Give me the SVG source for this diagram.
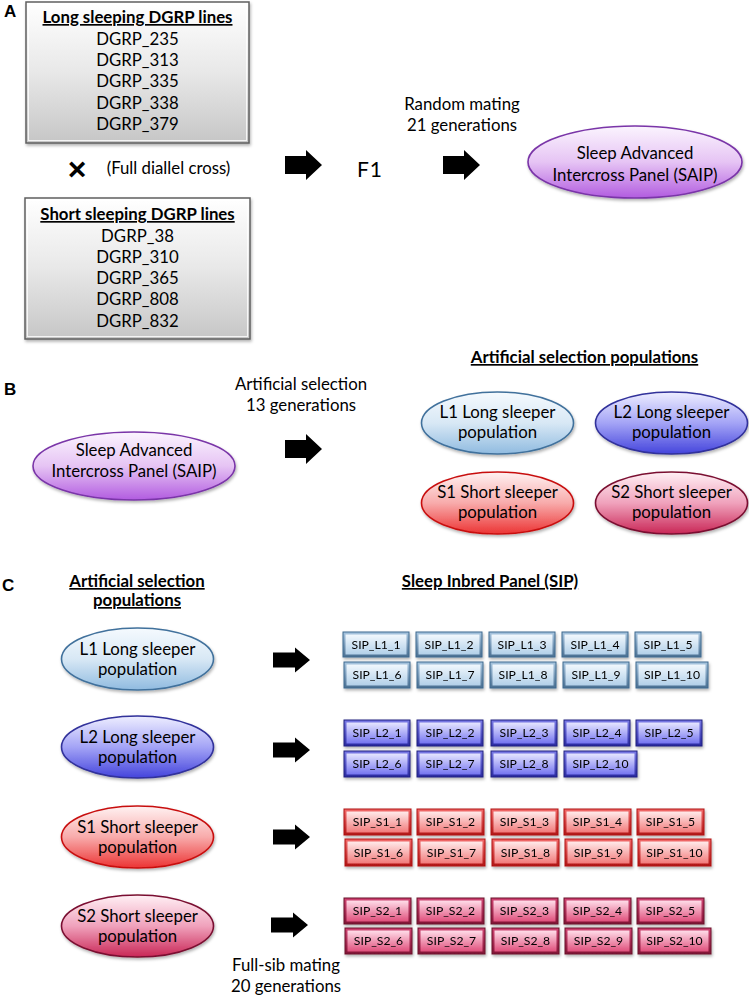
<svg xmlns="http://www.w3.org/2000/svg" width="749" height="998" viewBox="0 0 749 998">
<defs>
<style>
text{font-family:Lato,"Liberation Sans",sans-serif;fill:#000;text-anchor:middle}
.t{font-size:16.8px}
.h{font-size:16.8px;font-weight:bold;text-decoration:underline}
.lbl{font-family:"Liberation Sans",Arial,sans-serif;font-weight:bold;font-size:17px;text-anchor:start}
.bx{font-size:12.2px}
.o1{fill:url(#l1e);stroke:#3f6a8f;stroke-width:1}
.i1{fill:url(#l1f)}
.o2{fill:url(#l2e);stroke:#1e1e80;stroke-width:1}
.i2{fill:url(#l2f)}
.o3{fill:url(#s1e);stroke:#b01010;stroke-width:1}
.i3{fill:url(#s1f)}
.o4{fill:url(#s2e);stroke:#6a0f2a;stroke-width:1}
.i4{fill:url(#s2f)}
.btn{filter:url(#sh)}
.el{stroke-width:1.6;filter:url(#sh)}
.arrow{fill:#000}
</style>
<linearGradient id="gBox" x1="0" y1="0" x2="0" y2="1"><stop offset="0" stop-color="#ffffff"/><stop offset="0.5" stop-color="#e8e8e8"/><stop offset="1" stop-color="#c6c6c6"/></linearGradient>
<linearGradient id="l1f" x1="0" y1="0" x2="0" y2="1"><stop offset="0" stop-color="#f2f8fd"/><stop offset="1" stop-color="#b2d0e9"/></linearGradient>
<linearGradient id="l1e" x1="0" y1="0" x2="0" y2="1"><stop offset="0" stop-color="#a8c6e0"/><stop offset="1" stop-color="#4a6f92"/></linearGradient>
<linearGradient id="l2f" x1="0" y1="0" x2="0" y2="1"><stop offset="0" stop-color="#e6e6ff"/><stop offset="1" stop-color="#7474f0"/></linearGradient>
<linearGradient id="l2e" x1="0" y1="0" x2="0" y2="1"><stop offset="0" stop-color="#7a7ae6"/><stop offset="1" stop-color="#2a2aa0"/></linearGradient>
<linearGradient id="s1f" x1="0" y1="0" x2="0" y2="1"><stop offset="0" stop-color="#ffeaea"/><stop offset="1" stop-color="#f27a7a"/></linearGradient>
<linearGradient id="s1e" x1="0" y1="0" x2="0" y2="1"><stop offset="0" stop-color="#f26a6a"/><stop offset="1" stop-color="#b01515"/></linearGradient>
<linearGradient id="s2f" x1="0" y1="0" x2="0" y2="1"><stop offset="0" stop-color="#ffdde9"/><stop offset="1" stop-color="#e0507c"/></linearGradient>
<linearGradient id="s2e" x1="0" y1="0" x2="0" y2="1"><stop offset="0" stop-color="#d04472"/><stop offset="1" stop-color="#801535"/></linearGradient>
<linearGradient id="gSaip" x1="0" y1="0" x2="0" y2="1"><stop offset="0" stop-color="#fbf4fe"/><stop offset="0.5" stop-color="#e6c4f4"/><stop offset="1" stop-color="#b25ce0"/></linearGradient>
<linearGradient id="gL1" x1="0" y1="0" x2="0" y2="1"><stop offset="0" stop-color="#f5fafe"/><stop offset="0.5" stop-color="#d8e8f5"/><stop offset="1" stop-color="#90bbe0"/></linearGradient>
<linearGradient id="gL2" x1="0" y1="0" x2="0" y2="1"><stop offset="0" stop-color="#eeeeff"/><stop offset="0.5" stop-color="#a4a4f6"/><stop offset="1" stop-color="#4444dc"/></linearGradient>
<linearGradient id="gS1" x1="0" y1="0" x2="0" y2="1"><stop offset="0" stop-color="#fff2f2"/><stop offset="0.5" stop-color="#f8abab"/><stop offset="1" stop-color="#ec3434"/></linearGradient>
<linearGradient id="gS2" x1="0" y1="0" x2="0" y2="1"><stop offset="0" stop-color="#fff0f5"/><stop offset="0.5" stop-color="#f0a2bc"/><stop offset="1" stop-color="#c92656"/></linearGradient>
<filter id="sh" x="-10%" y="-15%" width="125%" height="145%"><feDropShadow dx="1" dy="2" stdDeviation="1.4" flood-color="#000" flood-opacity="0.3"/></filter>
<path id="arA" d="M0,-9H21V-15L37,0L21,15V9H0Z"/>
<path id="arC" d="M0,-7.5H22V-12.5L37,0L22,12.5V7.5H0Z"/>
</defs>
<rect width="749" height="998" fill="#fff"/>

<!-- Panel labels -->
<text class="lbl" x="4" y="17">A</text>
<text class="lbl" x="4" y="395">B</text>
<text class="lbl" x="2" y="591">C</text>

<!-- Section A -->
<g id="long-lines">
<rect x="26" y="2" width="223" height="141" fill="url(#gBox)" stroke="#5f5f5f" stroke-width="1.5" filter="url(#sh)"/>
<rect x="28.5" y="4.5" width="218" height="136" fill="none" stroke="#ffffff" stroke-opacity="0.8" stroke-width="1"/>
<text class="h" x="137.5" y="23">Long sleeping DGRP lines</text>
<text class="t" x="137.5" y="45">DGRP_235</text>
<text class="t" x="137.5" y="66">DGRP_313</text>
<text class="t" x="137.5" y="87">DGRP_335</text>
<text class="t" x="137.5" y="109">DGRP_338</text>
<text class="t" x="137.5" y="130">DGRP_379</text>
</g>
<g id="cross">
<text x="77" y="180" style="font-family:'Liberation Sans',sans-serif;font-size:32px;font-weight:bold">×</text>
<text class="t" x="168.5" y="174">(Full diallel cross)</text>
</g>
<g id="short-lines">
<rect x="25" y="198" width="225" height="141" fill="url(#gBox)" stroke="#5f5f5f" stroke-width="1.5" filter="url(#sh)"/>
<rect x="27.5" y="200.5" width="220" height="136" fill="none" stroke="#ffffff" stroke-opacity="0.8" stroke-width="1"/>
<text class="h" x="137.5" y="220">Short sleeping DGRP lines</text>
<text class="t" x="137.5" y="242">DGRP_38</text>
<text class="t" x="137.5" y="263">DGRP_310</text>
<text class="t" x="137.5" y="284">DGRP_365</text>
<text class="t" x="137.5" y="305">DGRP_808</text>
<text class="t" x="137.5" y="327">DGRP_832</text>
</g>
<g id="f1">
<text x="370" y="177" style="font-size:21px;letter-spacing:1px">F1</text>
</g>
<g id="saip-a">
<ellipse class="el" cx="635" cy="162" rx="107" ry="36" fill="url(#gSaip)" stroke="#7a35a8"/>
<text class="t" x="635" y="159">Sleep Advanced</text>
<text class="t" x="635" y="181">Intercross Panel (SAIP)</text>
</g>
<g id="label-random">
<text class="t" x="462" y="110">Random mating</text>
<text class="t" x="462" y="131">21 generations</text>
</g>

<!-- Section B -->
<g id="saip-b">
<ellipse class="el" cx="134" cy="466" rx="101" ry="34" fill="url(#gSaip)" stroke="#7a35a8"/>
<text class="t" x="134" y="456">Sleep Advanced</text>
<text class="t" x="134" y="477">Intercross Panel (SAIP)</text>
</g>
<g id="label-artsel">
<text class="t" x="301" y="390">Artificial selection</text>
<text class="t" x="301" y="411">13 generations</text>
</g>
<text class="h" x="584.5" y="363">Artificial selection populations</text>
<g id="b-l1">
<ellipse class="el" cx="497.5" cy="423" rx="76" ry="31" fill="url(#gL1)" stroke="#41719c"/>
<text class="t" x="497.5" y="418">L1 Long sleeper</text>
<text class="t" x="497.5" y="438">population</text>
</g>
<g id="b-l2">
<ellipse class="el" cx="671.5" cy="423" rx="76" ry="31" fill="url(#gL2)" stroke="#30309a"/>
<text class="t" x="671.5" y="418">L2 Long sleeper</text>
<text class="t" x="671.5" y="438">population</text>
</g>
<g id="b-s1">
<ellipse class="el" cx="497.5" cy="503" rx="76" ry="31" fill="url(#gS1)" stroke="#c81010"/>
<text class="t" x="497.5" y="498">S1 Short sleeper</text>
<text class="t" x="497.5" y="518">population</text>
</g>
<g id="b-s2">
<ellipse class="el" cx="671.5" cy="503" rx="76" ry="31" fill="url(#gS2)" stroke="#7a1030"/>
<text class="t" x="671.5" y="498">S2 Short sleeper</text>
<text class="t" x="671.5" y="518">population</text>
</g>

<!-- Section C -->
<text class="h" x="137" y="587">Artificial selection</text>
<text class="h" x="137" y="606">populations</text>
<text class="h" x="490" y="587">Sleep Inbred Panel (SIP)</text>
<g id="c-l1">
<ellipse class="el" cx="137.5" cy="659" rx="76" ry="31" fill="url(#gL1)" stroke="#41719c"/>
<text class="t" x="137.5" y="655">L1 Long sleeper</text>
<text class="t" x="137.5" y="675">population</text>
</g>
<g id="c-l2">
<ellipse class="el" cx="137.5" cy="747" rx="76" ry="31" fill="url(#gL2)" stroke="#30309a"/>
<text class="t" x="137.5" y="743">L2 Long sleeper</text>
<text class="t" x="137.5" y="763">population</text>
</g>
<g id="c-s1">
<ellipse class="el" cx="137.5" cy="837" rx="76" ry="31" fill="url(#gS1)" stroke="#c81010"/>
<text class="t" x="137.5" y="833">S1 Short sleeper</text>
<text class="t" x="137.5" y="853">population</text>
</g>
<g id="c-s2">
<ellipse class="el" cx="137.5" cy="926" rx="76" ry="31" fill="url(#gS2)" stroke="#7a1030"/>
<text class="t" x="137.5" y="922">S2 Short sleeper</text>
<text class="t" x="137.5" y="942">population</text>
</g>
<g id="label-fullsib">
<text class="t" x="286" y="971">Full-sib mating</text>
<text class="t" x="286" y="992">20 generations</text>
</g>

<!-- SIP lines -->
<g id="sip-l1" class="btn">
<g id="sip-l1-1"><rect class="o1" x="343" y="632" width="66" height="25"/><rect class="i1" x="345.5" y="634.5" width="61" height="20"/><text class="bx" x="376" y="648.5">SIP_L1_1</text></g>
<g id="sip-l1-2"><rect class="o1" x="416" y="632" width="66" height="25"/><rect class="i1" x="418.5" y="634.5" width="61" height="20"/><text class="bx" x="449" y="648.5">SIP_L1_2</text></g>
<g id="sip-l1-3"><rect class="o1" x="489" y="632" width="66" height="25"/><rect class="i1" x="491.5" y="634.5" width="61" height="20"/><text class="bx" x="522" y="648.5">SIP_L1_3</text></g>
<g id="sip-l1-4"><rect class="o1" x="562" y="632" width="66" height="25"/><rect class="i1" x="564.5" y="634.5" width="61" height="20"/><text class="bx" x="595" y="648.5">SIP_L1_4</text></g>
<g id="sip-l1-5"><rect class="o1" x="635" y="632" width="66" height="25"/><rect class="i1" x="637.5" y="634.5" width="61" height="20"/><text class="bx" x="668" y="648.5">SIP_L1_5</text></g>
<g id="sip-l1-6"><rect class="o1" x="344" y="662" width="66" height="26"/><rect class="i1" x="346.5" y="664.5" width="61" height="21"/><text class="bx" x="377" y="679">SIP_L1_6</text></g>
<g id="sip-l1-7"><rect class="o1" x="417" y="662" width="66" height="26"/><rect class="i1" x="419.5" y="664.5" width="61" height="21"/><text class="bx" x="450" y="679">SIP_L1_7</text></g>
<g id="sip-l1-8"><rect class="o1" x="490" y="662" width="66" height="26"/><rect class="i1" x="492.5" y="664.5" width="61" height="21"/><text class="bx" x="523" y="679">SIP_L1_8</text></g>
<g id="sip-l1-9"><rect class="o1" x="563" y="662" width="66" height="26"/><rect class="i1" x="565.5" y="664.5" width="61" height="21"/><text class="bx" x="596" y="679">SIP_L1_9</text></g>
<g id="sip-l1-10"><rect class="o1" x="636" y="662" width="72" height="26"/><rect class="i1" x="638.5" y="664.5" width="67" height="21"/><text class="bx" x="672" y="679">SIP_L1_10</text></g>
</g>
<g id="sip-l2" class="btn">
<g id="sip-l2-1"><rect class="o2" x="344" y="720" width="66" height="26"/><rect class="i2" x="346.5" y="722.5" width="61" height="21"/><text class="bx" x="377" y="737">SIP_L2_1</text></g>
<g id="sip-l2-2"><rect class="o2" x="417" y="720" width="66" height="26"/><rect class="i2" x="419.5" y="722.5" width="61" height="21"/><text class="bx" x="450" y="737">SIP_L2_2</text></g>
<g id="sip-l2-3"><rect class="o2" x="491" y="720" width="66" height="26"/><rect class="i2" x="493.5" y="722.5" width="61" height="21"/><text class="bx" x="524" y="737">SIP_L2_3</text></g>
<g id="sip-l2-4"><rect class="o2" x="564" y="720" width="66" height="26"/><rect class="i2" x="566.5" y="722.5" width="61" height="21"/><text class="bx" x="597" y="737">SIP_L2_4</text></g>
<g id="sip-l2-5"><rect class="o2" x="636" y="720" width="66" height="26"/><rect class="i2" x="638.5" y="722.5" width="61" height="21"/><text class="bx" x="669" y="737">SIP_L2_5</text></g>
<g id="sip-l2-6"><rect class="o2" x="344" y="751" width="66" height="26"/><rect class="i2" x="346.5" y="753.5" width="61" height="21"/><text class="bx" x="377" y="768">SIP_L2_6</text></g>
<g id="sip-l2-7"><rect class="o2" x="417" y="751" width="66" height="26"/><rect class="i2" x="419.5" y="753.5" width="61" height="21"/><text class="bx" x="450" y="768">SIP_L2_7</text></g>
<g id="sip-l2-8"><rect class="o2" x="491" y="751" width="66" height="26"/><rect class="i2" x="493.5" y="753.5" width="61" height="21"/><text class="bx" x="524" y="768">SIP_L2_8</text></g>
<g id="sip-l2-10"><rect class="o2" x="564" y="751" width="73" height="26"/><rect class="i2" x="566.5" y="753.5" width="68" height="21"/><text class="bx" x="600.5" y="768">SIP_L2_10</text></g>
</g>
<g id="sip-s1" class="btn">
<g id="sip-s1-1"><rect class="o3" x="344" y="809" width="67" height="26"/><rect class="i3" x="346.5" y="811.5" width="62" height="21"/><text class="bx" x="377.5" y="826">SIP_S1_1</text></g>
<g id="sip-s1-2"><rect class="o3" x="417" y="809" width="67" height="26"/><rect class="i3" x="419.5" y="811.5" width="62" height="21"/><text class="bx" x="450.5" y="826">SIP_S1_2</text></g>
<g id="sip-s1-3"><rect class="o3" x="491" y="809" width="67" height="26"/><rect class="i3" x="493.5" y="811.5" width="62" height="21"/><text class="bx" x="524.5" y="826">SIP_S1_3</text></g>
<g id="sip-s1-4"><rect class="o3" x="564" y="809" width="67" height="26"/><rect class="i3" x="566.5" y="811.5" width="62" height="21"/><text class="bx" x="597.5" y="826">SIP_S1_4</text></g>
<g id="sip-s1-5"><rect class="o3" x="637" y="809" width="67" height="26"/><rect class="i3" x="639.5" y="811.5" width="62" height="21"/><text class="bx" x="670.5" y="826">SIP_S1_5</text></g>
<g id="sip-s1-6"><rect class="o3" x="345" y="839" width="67" height="27"/><rect class="i3" x="347.5" y="841.5" width="62" height="22"/><text class="bx" x="378.5" y="856.5">SIP_S1_6</text></g>
<g id="sip-s1-7"><rect class="o3" x="418" y="839" width="67" height="27"/><rect class="i3" x="420.5" y="841.5" width="62" height="22"/><text class="bx" x="451.5" y="856.5">SIP_S1_7</text></g>
<g id="sip-s1-8"><rect class="o3" x="492" y="839" width="67" height="27"/><rect class="i3" x="494.5" y="841.5" width="62" height="22"/><text class="bx" x="525.5" y="856.5">SIP_S1_8</text></g>
<g id="sip-s1-9"><rect class="o3" x="565" y="839" width="67" height="27"/><rect class="i3" x="567.5" y="841.5" width="62" height="22"/><text class="bx" x="598.5" y="856.5">SIP_S1_9</text></g>
<g id="sip-s1-10"><rect class="o3" x="638" y="839" width="73" height="27"/><rect class="i3" x="640.5" y="841.5" width="68" height="22"/><text class="bx" x="674.5" y="856.5">SIP_S1_10</text></g>
</g>
<g id="sip-s2" class="btn">
<g id="sip-s2-1"><rect class="o4" x="344" y="898" width="67" height="26"/><rect class="i4" x="346.5" y="900.5" width="62" height="21"/><text class="bx" x="377.5" y="915">SIP_S2_1</text></g>
<g id="sip-s2-2"><rect class="o4" x="417" y="898" width="67" height="26"/><rect class="i4" x="419.5" y="900.5" width="62" height="21"/><text class="bx" x="450.5" y="915">SIP_S2_2</text></g>
<g id="sip-s2-3"><rect class="o4" x="491" y="898" width="67" height="26"/><rect class="i4" x="493.5" y="900.5" width="62" height="21"/><text class="bx" x="524.5" y="915">SIP_S2_3</text></g>
<g id="sip-s2-4"><rect class="o4" x="564" y="898" width="67" height="26"/><rect class="i4" x="566.5" y="900.5" width="62" height="21"/><text class="bx" x="597.5" y="915">SIP_S2_4</text></g>
<g id="sip-s2-5"><rect class="o4" x="637" y="898" width="67" height="26"/><rect class="i4" x="639.5" y="900.5" width="62" height="21"/><text class="bx" x="670.5" y="915">SIP_S2_5</text></g>
<g id="sip-s2-6"><rect class="o4" x="345" y="928" width="67" height="26"/><rect class="i4" x="347.5" y="930.5" width="62" height="21"/><text class="bx" x="378.5" y="945">SIP_S2_6</text></g>
<g id="sip-s2-7"><rect class="o4" x="418" y="928" width="67" height="26"/><rect class="i4" x="420.5" y="930.5" width="62" height="21"/><text class="bx" x="451.5" y="945">SIP_S2_7</text></g>
<g id="sip-s2-8"><rect class="o4" x="492" y="928" width="67" height="26"/><rect class="i4" x="494.5" y="930.5" width="62" height="21"/><text class="bx" x="525.5" y="945">SIP_S2_8</text></g>
<g id="sip-s2-9"><rect class="o4" x="565" y="928" width="67" height="26"/><rect class="i4" x="567.5" y="930.5" width="62" height="21"/><text class="bx" x="598.5" y="945">SIP_S2_9</text></g>
<g id="sip-s2-10"><rect class="o4" x="638" y="928" width="73" height="26"/><rect class="i4" x="640.5" y="930.5" width="68" height="21"/><text class="bx" x="674.5" y="945">SIP_S2_10</text></g>
</g>

<!-- Connectors (block arrows) -->
<g id="connectors" class="arrow">
<use href="#arA" transform="translate(285,165)"/>
<use href="#arA" transform="translate(443,165)"/>
<use href="#arA" transform="translate(285,449)"/>
<use href="#arC" transform="translate(273,660)"/>
<use href="#arC" transform="translate(273,750)"/>
<use href="#arC" transform="translate(273,837)"/>
<use href="#arC" transform="translate(271,925)"/>
</g>
</svg>
